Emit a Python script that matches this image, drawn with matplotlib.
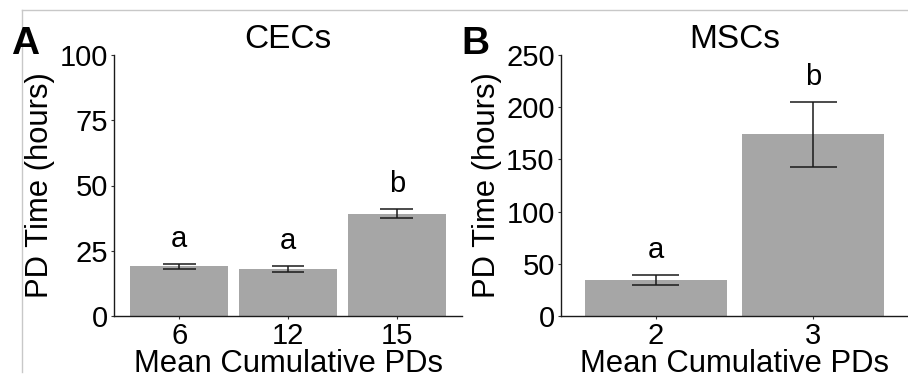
import matplotlib
matplotlib.use('Agg')
from matplotlib import pyplot as plt
from matplotlib.lines import Line2D
import numpy as np

# > data
cec_groups = ['6', '12', '15']
cec_means = [19.0, 18.0, 39.2]
cec_errors = [1.1, 1.1, 1.8]
cec_letters = ['a', 'a', 'b']

msc_groups = ['2', '3']
msc_means = [34.5, 174.0]
msc_errors = [4.7, 31.0]
msc_letters = ['a', 'b']

plt.rcParams['font.family'] = ['Liberation Sans', 'DejaVu Sans']
bar_color = '#A6A6A6'
tick_size = 21
label_size = 22.3
title_size = 24


def draw_panel(ax, groups, means, errors, letters, y_max, y_step, title):
    positions = np.arange(1, len(groups) + 1)
    means = np.array(means)
    errors = np.array(errors)
    ax.bar(positions, means, width=0.9, color=bar_color, zorder=1)
    # error bars with caps 0.3 wide in category units
    ax.vlines(positions, means - errors, means + errors, color='#1a1a1a', linewidth=1.1, zorder=2)
    ax.hlines(means + errors, positions - 0.15, positions + 0.15, color='#1a1a1a', linewidth=1.1, zorder=2)
    ax.hlines(means - errors, positions - 0.15, positions + 0.15, color='#1a1a1a', linewidth=1.1, zorder=2)
    for pos, upper, letter in zip(positions, means + errors, letters):
        ax.annotate(letter, (pos, upper), xytext=(0, 18), textcoords='offset points',
                    ha='center', va='center', fontsize=tick_size)

    ax.set_xlim(0.4, len(groups) + 0.6)
    ax.set_ylim(0, y_max)
    ax.set_xticks(positions)
    ax.set_xticklabels(groups)
    ax.set_yticks(np.arange(0, y_max + 1, y_step))
    ax.tick_params(labelsize=tick_size, length=2.5, width=0.8, color='#333333', pad=2)
    ax.set_xlabel('Mean Cumulative PDs', fontsize=label_size, labelpad=-1)
    ax.set_ylabel('PD Time (hours)', fontsize=label_size, labelpad=3)
    ax.set_title(title, fontsize=title_size, pad=4)
    for side in ['top', 'right']:
        ax.spines[side].set_visible(False)
    for side in ['left', 'bottom']:
        ax.spines[side].set_color('#1a1a1a')
        ax.spines[side].set_linewidth(1.0)


fig = plt.figure(figsize=(9.08, 3.83), dpi=100)

ax_a = fig.add_axes([114 / 908, 1 - 316 / 383, 348 / 908, 261 / 383])
draw_panel(ax_a, cec_groups, cec_means, cec_errors, cec_letters, 100, 25, 'CECs')

ax_b = fig.add_axes([561 / 908, 1 - 316 / 383, 347 / 908, 261 / 383])
draw_panel(ax_b, msc_groups, msc_means, msc_errors, msc_letters, 250, 50, 'MSCs')

# panel letters
fig.text(11 / 908, 1 - 44 / 383, 'A', fontsize=28, fontweight='bold', va='center', ha='left')
fig.text(461 / 908, 1 - 44 / 383, 'B', fontsize=28, fontweight='bold', va='center', ha='left')

# thin frame lines from the source figure
fig.add_artist(Line2D([22 / 908, 1], [1 - 10 / 383, 1 - 10 / 383], color='#C8C8C8', linewidth=1))
fig.add_artist(Line2D([22 / 908, 22 / 908], [1 - 10 / 383, 1 - 372 / 383], color='#C8C8C8', linewidth=1))

fig.savefig('out.png', dpi=100)
